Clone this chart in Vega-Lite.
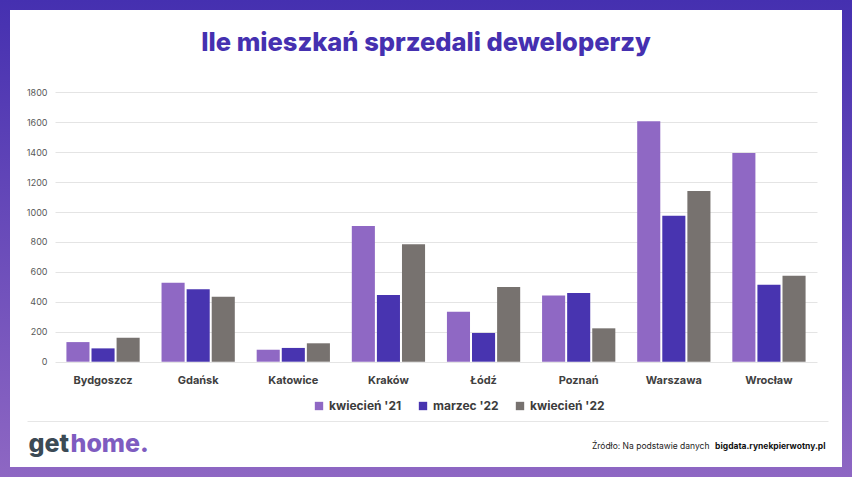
{
  "$schema": "https://vega.github.io/schema/vega-lite/v6.json",
  "width": 852,
  "height": 477,
  "padding": 0,
  "autosize": {"type": "none"},
  "background": "#ffffff",
  "view": {
    "fill": "#ffffff",
    "stroke": {"gradient": "linear", "x1": 0, "y1": 0, "x2": 0, "y2": 1, "stops": [{"offset": 0, "color": "#4530B0"}, {"offset": 1, "color": "#8E67C3"}]},
    "strokeWidth": 20
  },
  "title": {
    "text": "Ile mieszkań sprzedali deweloperzy",
    "anchor": "middle",
    "frame": "group",
    "orient": "top",
    "offset": -76,
    "baseline": "alphabetic",
    "font": "Inter",
    "fontSize": 25.5,
    "fontWeight": 800,
    "color": "#4530B0"
  },
  "data": {
    "values": [
      {"city": "Bydgoszcz", "series": "kwiecień '21", "value": 131},
      {"city": "Bydgoszcz", "series": "marzec '22", "value": 89},
      {"city": "Bydgoszcz", "series": "kwiecień '22", "value": 160},
      {"city": "Gdańsk", "series": "kwiecień '21", "value": 528},
      {"city": "Gdańsk", "series": "marzec '22", "value": 484},
      {"city": "Gdańsk", "series": "kwiecień '22", "value": 434},
      {"city": "Katowice", "series": "kwiecień '21", "value": 80},
      {"city": "Katowice", "series": "marzec '22", "value": 92},
      {"city": "Katowice", "series": "kwiecień '22", "value": 123},
      {"city": "Kraków", "series": "kwiecień '21", "value": 906},
      {"city": "Kraków", "series": "marzec '22", "value": 445},
      {"city": "Kraków", "series": "kwiecień '22", "value": 784},
      {"city": "Łódź", "series": "kwiecień '21", "value": 334},
      {"city": "Łódź", "series": "marzec '22", "value": 192},
      {"city": "Łódź", "series": "kwiecień '22", "value": 499},
      {"city": "Poznań", "series": "kwiecień '21", "value": 443},
      {"city": "Poznań", "series": "marzec '22", "value": 459},
      {"city": "Poznań", "series": "kwiecień '22", "value": 223},
      {"city": "Warszawa", "series": "kwiecień '21", "value": 1606},
      {"city": "Warszawa", "series": "marzec '22", "value": 975},
      {"city": "Warszawa", "series": "kwiecień '22", "value": 1140},
      {"city": "Wrocław", "series": "kwiecień '21", "value": 1394},
      {"city": "Wrocław", "series": "marzec '22", "value": 514},
      {"city": "Wrocław", "series": "kwiecień '22", "value": 575}
    ]
  },
  "layer": [
    {
      "mark": {"type": "bar"},
      "encoding": {
        "x": {
          "field": "city",
          "type": "nominal",
          "sort": null,
          "scale": {"range": [55, 817], "paddingInner": 0.23, "paddingOuter": 0.12},
          "axis": {
            "orient": "bottom",
            "offset": -115,
            "domain": false,
            "ticks": false,
            "grid": false,
            "labelAngle": 0,
            "labelPadding": 12,
            "labelFont": "Inter",
            "labelFontSize": 11,
            "labelFontWeight": 700,
            "labelColor": "#404040",
            "title": "bigdata.rynekpierwotny.pl",
            "titleX": 825,
            "titleY": 83,
            "titleAlign": "right",
            "titleBaseline": "middle",
            "titleFont": "Inter",
            "titleFontSize": 8.5,
            "titleFontWeight": 700,
            "titleColor": "#111111"
          }
        },
        "xOffset": {
          "field": "series",
          "type": "nominal",
          "sort": ["kwiecień '21", "marzec '22", "kwiecień '22"],
          "scale": {"paddingInner": 0.08, "paddingOuter": 0}
        },
        "y": {
          "field": "value",
          "type": "quantitative",
          "scale": {"domain": [0, 1800], "range": [361.7, 92.3], "nice": false, "zero": true},
          "axis": {
            "orient": "left",
            "offset": -55,
            "values": [0, 200, 400, 600, 800, 1000, 1200, 1400, 1600, 1800],
            "format": "d",
            "domain": false,
            "ticks": false,
            "grid": true,
            "gridColor": "#e4e4e4",
            "gridWidth": 1,
            "labelPadding": 8,
            "labelFont": "Inter",
            "labelFontSize": 9,
            "labelColor": "#595959",
            "title": "get",
            "titleAngle": 0,
            "titleX": -27,
            "titleY": 451,
            "titleAlign": "left",
            "titleBaseline": "alphabetic",
            "titleFont": "Inter",
            "titleFontSize": 25,
            "titleFontWeight": 800,
            "titleColor": "#3B4A55"
          }
        },
        "color": {
          "field": "series",
          "type": "nominal",
          "sort": ["kwiecień '21", "marzec '22", "kwiecień '22"],
          "scale": {"domain": ["kwiecień '21", "marzec '22", "kwiecień '22"], "range": ["#8F68C4", "#4834B0", "#77726F"]},
          "legend": {
            "title": null,
            "orient": "none",
            "direction": "horizontal",
            "legendX": 313,
            "legendY": 400,
            "symbolType": "square",
            "symbolSize": 70,
            "symbolStrokeWidth": 0,
            "columnPadding": 15,
            "labelOffset": 4,
            "labelFont": "Inter",
            "labelFontSize": 12,
            "labelFontWeight": 700,
            "labelColor": "#3c3c3c"
          }
        }
      }
    },
    {
      "mark": {"type": "point", "opacity": 0},
      "encoding": {
        "x": {
          "field": "city",
          "type": "nominal",
          "sort": null,
          "scale": {"range": [27, 828]},
          "axis": {
            "orient": "bottom",
            "offset": -56,
            "domain": true,
            "domainColor": "#e6e6e6",
            "domainWidth": 1,
            "labels": false,
            "ticks": false,
            "grid": false,
            "title": "Źródło: Na podstawie danych",
            "titleX": 709,
            "titleY": 24,
            "titleAlign": "right",
            "titleBaseline": "middle",
            "titleFont": "Inter",
            "titleFontSize": 8.5,
            "titleFontWeight": 400,
            "titleColor": "#222222"
          }
        },
        "y": {
          "field": "value",
          "type": "quantitative",
          "axis": {
            "orient": "right",
            "domain": false,
            "labels": false,
            "ticks": false,
            "grid": false,
            "title": "home.",
            "titleAngle": 0,
            "titleX": -782,
            "titleY": 451,
            "titleAlign": "left",
            "titleBaseline": "alphabetic",
            "titleFont": "Inter",
            "titleFontSize": 25,
            "titleFontWeight": 800,
            "titleColor": "#7E5CC0"
          }
        }
      }
    }
  ],
  "resolve": {"scale": {"x": "independent", "y": "independent"}, "axis": {"x": "independent", "y": "independent"}},
  "config": {
    "axis": {"labelFont": "Inter", "titleFont": "Inter"},
    "legend": {"labelFont": "Inter"}
  }
}
